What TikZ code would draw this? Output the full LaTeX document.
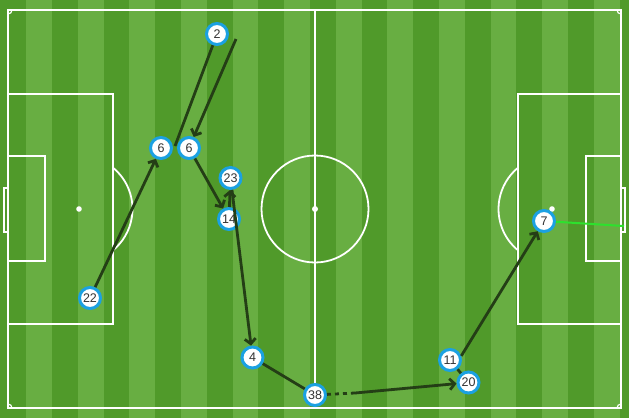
\documentclass[tikz,border=0pt]{standalone}
\usepackage{fontspec}
\setmainfont{Liberation Sans}
\usetikzlibrary{arrows.meta}
\definecolor{grlight}{RGB}{104,174,66}
\definecolor{grdark}{RGB}{80,154,42}
\definecolor{passcol}{RGB}{36,62,22}
\definecolor{ringblue}{RGB}{27,161,226}
\definecolor{shotgreen}{RGB}{45,225,45}
\definecolor{numgray}{RGB}{51,51,51}
\begin{document}
\begin{tikzpicture}[x=1pt,y=-1pt,
 player/.style={circle,draw=ringblue,line width=3pt,fill=white,minimum size=21pt,inner sep=0pt,text=numgray,font=\fontsize{12.5}{14}\selectfont},
 pitchline/.style={draw=white,line width=1.8pt},
 pass/.style={draw=passcol,line width=2.8pt,-{Straight Barb[length=5pt,width=11pt]}},
 passline/.style={draw=passcol,line width=2.8pt},
 dotpass/.style={draw=passcol,line width=2.8pt,dash pattern=on 4pt off 4pt},
 shot/.style={draw=shotgreen,line width=2pt}]
\useasboundingbox (0,0) rectangle (629,418);
\fill[grlight] (0,0) rectangle (629,418);
\foreach \k in {0,...,12} \fill[grdark] ({0.4+51.6*\k},0) rectangle ({26.2+51.6*\k},418);
% pitch
\draw[pitchline] (8,10) rectangle (621,408);
\draw[pitchline] (315,10) -- (315,408);
\draw[pitchline] (315,209) circle[radius=53.5];
\fill[white] (315,209) circle[radius=3];
\draw[pitchline] (8,94) rectangle (113,324);
\draw[pitchline] (8,156) rectangle (45,261);
\draw[pitchline] (8,188) rectangle (4,232);
\fill[white] (79,209) circle[radius=2.8];
\draw[pitchline] (79,209) ++(-50.5:53.5) arc[start angle=-50.5,end angle=50.5,radius=53.5];
\draw[pitchline] (518,94) rectangle (621,324);
\draw[pitchline] (586,156) rectangle (621,261);
\draw[pitchline] (621,188) rectangle (625,232);
\fill[white] (552,209) circle[radius=2.8];
\draw[pitchline] (552,209) ++(129.5:53.5) arc[start angle=129.5,end angle=230.5,radius=53.5];
\draw[pitchline,line width=1.2pt] (12,10) arc[start angle=0,end angle=90,radius=4];
\draw[pitchline,line width=1.2pt] (617,10) arc[start angle=180,end angle=90,radius=4];
\draw[pitchline,line width=1.2pt] (12,408) arc[start angle=0,end angle=-90,radius=4];
\draw[pitchline,line width=1.2pt] (617,408) arc[start angle=180,end angle=270,radius=4];
% players
\node[player] (n2) at (217,34) {2};
\node[player] (n6a) at (161,148) {6};
\node[player] (n6b) at (189,148) {6};
\node[player] (n23) at (230.5,178) {23};
\node[player] (n14) at (229,219) {14};
\node[player] (n22) at (90,298) {22};
\node[player] (n4) at (252.5,357.5) {4};
\node[player] (n38) at (315,395) {38};
\node[player] (n11) at (450,360) {11};
\node[player] (n20) at (468.5,382.5) {20};
\node[player] (n7) at (544,221) {7};
% free ends
\coordinate (s2) at (175,146);
\coordinate (c3) at (236,39);
\coordinate (m38) at (355,393);
\coordinate (goal) at (624,226);
% passes
\draw[pass] (n22) -- (n6a);
\draw[passline] (s2) -- (n2);
\draw[pass] (c3) -- (n6b);
\draw[pass] (n6b) -- (n14);
\draw[pass] (n14) -- (n23);
\draw[pass] (n23) -- (n4);
\draw[passline] (n4) -- (n38);
\draw[dotpass] (n38) -- (m38);
\draw[pass] (m38) -- (n20);
\draw[passline] (n11) -- (n20);
\draw[pass] (n11.20) -- (n7);
\draw[shot] (n7) -- (goal);
\end{tikzpicture}
\end{document}
